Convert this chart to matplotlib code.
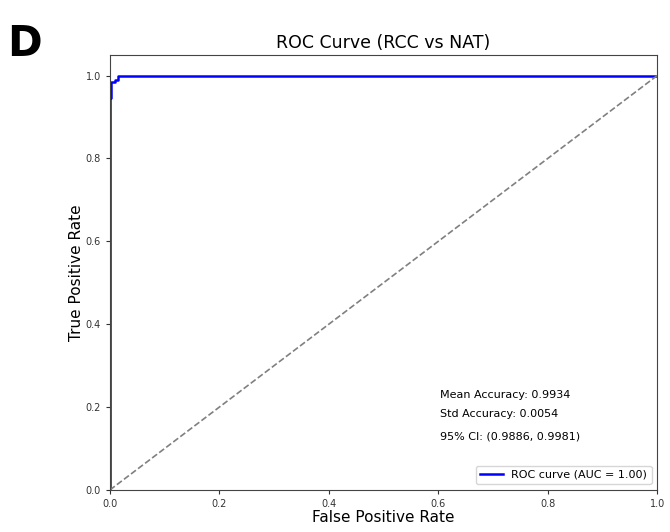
import matplotlib
matplotlib.use("Agg")
import matplotlib.pyplot as plt

# ROC points
fpr = [0.0, 0.0, 0.0, 0.002, 0.002, 0.009, 0.009, 0.015, 0.015, 1.0]
tpr = [0.0, 0.945, 0.945, 0.945, 0.985, 0.985, 0.99, 0.99, 1.0, 1.0]
auc = 1.00
mean_acc = 0.9934
std_acc = 0.0054
ci = (0.9886, 0.9981)

fig = plt.figure(figsize=(6.7, 5.32), dpi=100)
ax = fig.add_axes([0.164, 0.079, 0.817, 0.818])

ax.plot(fpr, tpr, color="blue", lw=1.8, label="ROC curve (AUC = %.2f)" % auc)
ax.plot([0, 1], [0, 1], color="gray", lw=1.2, linestyle="--")
ax.set_xlim(0, 1.0)
ax.set_ylim(0, 1.05)
ax.tick_params(labelsize=7, colors="#333333", length=3)
for s in ax.spines.values():
    s.set_color("#444444")
ax.set_xlabel("False Positive Rate", fontsize=11, labelpad=1)
ax.set_ylabel("True Positive Rate", fontsize=11, labelpad=1)
ax.set_title("ROC Curve (RCC vs NAT)", fontsize=12.5, pad=5)

ax.text(0.603, 0.218, "Mean Accuracy: %.4f" % mean_acc, transform=ax.transAxes, fontsize=8, va="center")
ax.text(0.603, 0.175, "Std Accuracy: %.4f" % std_acc, transform=ax.transAxes, fontsize=8, va="center")
ax.text(0.603, 0.122, "95%% CI: (%.4f, %.4f)" % ci, transform=ax.transAxes, fontsize=8, va="center")
ax.legend(loc="lower right", fontsize=8)

fig.text(0.01, 0.895, "D", fontsize=30, fontweight="bold")

fig.savefig("out.png", dpi=100)
